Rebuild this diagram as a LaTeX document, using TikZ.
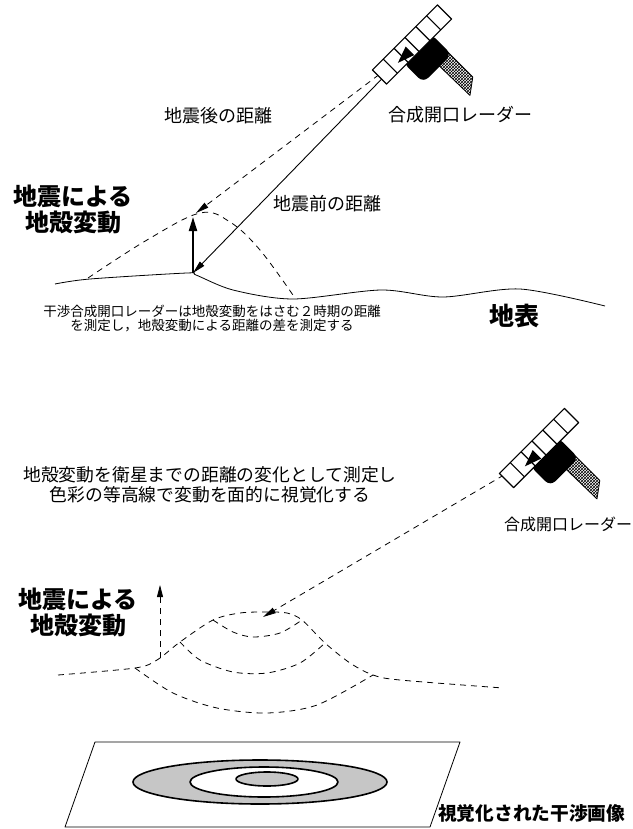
\documentclass[tikz,border=0pt]{standalone}
\usepackage{fontspec}
\newfontfamily\jp{Noto Sans CJK JP}
\usetikzlibrary{arrows.meta,patterns}

\pgfdeclarelayer{background}
\pgfsetlayers{background,main}

% satellite: u runs along the antenna panel, v across it
\tikzset{
  pics/satellite/.style={code={
    \begin{scope}[x={(0.7071pt,0.7071pt)},y={(0.7071pt,-0.7071pt)}]
      \draw[line width=0.8pt,pattern=crosshatch] (4,30) -- (20,30) -- (20,66) -- (5,77) -- cycle;
      \fill[rounded corners=7pt] (-19,6) -- (21,6) -- (21,35) -- (-19,35) -- cycle;
      \draw[line width=1.2pt,fill=white] (-46,-10) -- (46,-10) -- (46,10) -- (-46,10) -- cycle;
      \foreach \u in {-30.67,-15.33,0,15.33,30.67}
        \draw[line width=1.2pt] (\u,-10) -- (\u,10);
      \fill (-23,3) -- (-6,-3) -- (-6,9) -- cycle;
      \coordinate (-ant) at (-12,2.5);
    \end{scope}
  }}
}

\begin{document}
\begin{tikzpicture}[
    %Environment config
    x=1pt,y=-1pt,
    line join=round,
    %Environment styles
    Dash/.style={line width=0.8pt,dash pattern=on 6pt off 5pt},
    Beam/.style={line width=0.9pt,-{Triangle[length=13pt,width=6pt]}},
    Lift/.style={line width=2pt,-{Triangle[length=14pt,width=8pt]}},
    Ground/.style={line width=0.8pt},
    Label/.style={font=\jp\fontsize{18}{20}\selectfont,inner sep=0pt},
    Head/.style={font=\jp\bfseries\fontsize{24}{26}\selectfont,align=center,inner sep=0pt},
    Note/.style={font=\jp\fontsize{13.5}{14}\selectfont,align=center,inner sep=0pt},
    Ring/.style={line width=1.6pt}
  ]
  \useasboundingbox (0,0) rectangle (632,829);

  %% before / after the quake
  \pic (sat1) at (412,44.5) {satellite};
  \coordinate (peak1) at (196,213);
  \coordinate (foot1) at (193,273);
  \coordinate (lift1) at (193,217);

  \begin{pgfonlayer}{background}
    \draw[Beam,Dash] (sat1-ant) -- (peak1);
    \draw[Beam] (sat1-ant) -- (foot1);
  \end{pgfonlayer}

  \draw[Ground] plot[smooth,tension=0.5] coordinates {(55,284) (90,279) (187,273) (196,275)
    (233,290) (293,299) (381,290) (443,297) (520,289) (605,306)};
  \draw[Dash] plot[smooth,tension=0.6] coordinates {(88,278) (147,240) (200,213) (230,222)
    (260,250) (295,298)};
  \draw[Lift] (foot1) -- (lift1);

  \node[Label] (sar1) at (460,115) {合成開口レーダー};
  \node[Label] (after) at (218,116) {地震後の距離};
  \node[Label] (before) at (327,204) {地震前の距離};
  \node[Head] (quake1) at (73,209) {地震による\\地殻変動};
  \node[Note] (how1) at (212,319) {干渉合成開口レーダーは地殻変動をはさむ２時期の距離\\を測定し，地殻変動による距離の差を測定する};
  \node[font=\jp\bfseries\fontsize{25}{27}\selectfont,inner sep=0pt] (surface) at (514,316) {地表};

  %% contour view
  \node[font=\jp\fontsize{17.8}{19.5}\selectfont,align=center,inner sep=0pt] (how2) at (210,485)
    {地殻変動を衛星までの距離の変化として測定し\\色彩の等高線で変動を面的に視覚化する};
  \pic (sat2) at (539,448) {satellite};
  \node[font=\jp\fontsize{16}{18}\selectfont,inner sep=0pt] (sar2) at (568,524) {合成開口レーダー};
  \coordinate (peak2) at (263,617);
  \begin{pgfonlayer}{background}
    \draw[Beam,Dash] (sat2-ant) -- (peak2);
  \end{pgfonlayer}

  \node[Head] (quake2) at (78,612) {地震による\\地殻変動};
  \coordinate (base2) at (160,658);
  \coordinate (tip2) at (160,585);
  \draw[Dash,-{Triangle[length=12pt,width=6pt]}] (base2) -- (tip2);

  % hill outline and the three contour rings
  \draw[Dash] plot[smooth,tension=0.5] coordinates {(58,675) (135,668) (157,660) (180,642)
    (213,620) (240,613) (267,612) (287,613) (302,620) (325,643) (350,663) (373,675)
    (400,680) (503,688)};
  \draw[Dash] plot[smooth] coordinates {(213,620) (233,632) (253,637) (280,633) (302,620)};
  \draw[Dash] plot[smooth] coordinates {(180,642) (200,660) (233,672) (267,673) (300,663) (325,643)};
  \draw[Dash] plot[smooth] coordinates {(135,668) (173,693) (217,708) (267,713) (317,705) (373,675)};

  %% interferogram
  \draw[line width=0.8pt] (95,742) -- (460,742) -- (430,827) -- (65,827) -- cycle;
  \draw[Ring,fill=gray!45] (260,782) ellipse [x radius=127,y radius=22];
  \draw[Ring,fill=white] (264,782) ellipse [x radius=74,y radius=15];
  \draw[Ring,fill=gray!45] (267,779) ellipse [x radius=31,y radius=7];
  \node[font=\jp\bfseries\fontsize{18.7}{20}\selectfont,inner sep=0pt,anchor=west] (image) at (438,813) {視覚化された干渉画像};
\end{tikzpicture}
\end{document}
